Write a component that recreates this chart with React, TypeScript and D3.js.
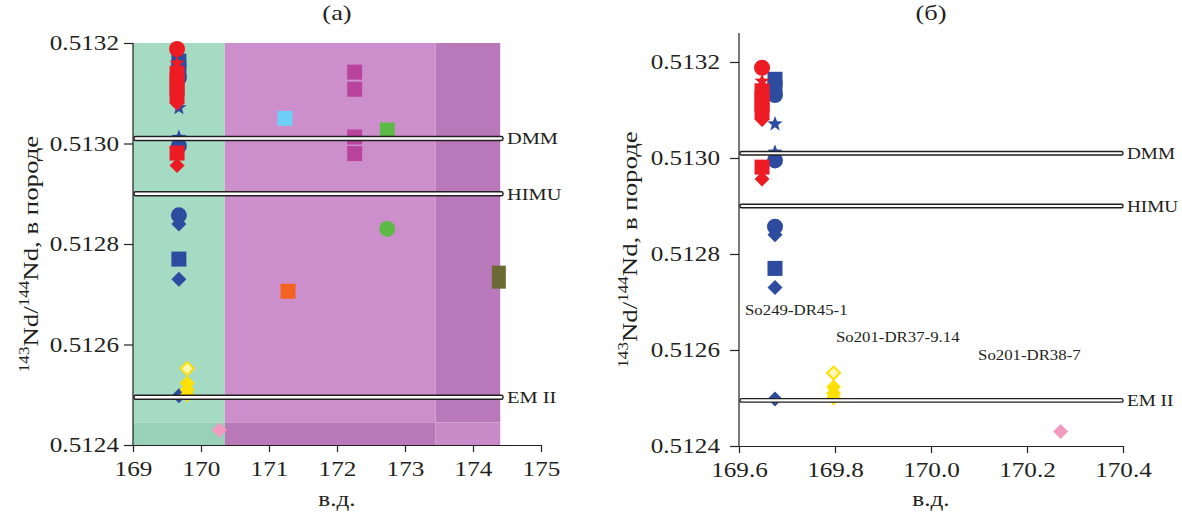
import { useRef, useEffect } from "react";
import * as d3 from "d3";

const W = 1182;
const H = 512;
const FONT = "'Liberation Serif', 'DejaVu Serif', serif";
const SX = 1.2; // text in the figure is drawn a bit wide

// longitude of each sample group (deg E)
const groupNames = ["blue", "red", "yellow", "pink", "cyan", "magenta", "green", "orange", "olive"];
const groupLon = [169.675, 169.648, 169.797, 170.27, 171.235, 172.26, 172.74, 171.28, 174.38];

// 143Nd/144Nd values per group and marker type of each point
const blueNd = [0.513164, 0.513148, 0.513131, 0.513071, 0.513012, 0.512995, 0.512857, 0.51284, 0.51277, 0.51273, 0.512498];
const blueShape = ["square", "square", "circle", "star", "star", "circle", "circle", "diamond", "square", "diamond", "diamond"];
const redNd = [0.513188, 0.51316, 0.51314, 0.513125, 0.51311, 0.513095, 0.51308, 0.512981, 0.512956];
const redShape = ["circle", "star", "square", "square", "square", "square", "diamond", "square", "diamond"];
const yellowNd = [0.512552, 0.512523, 0.51251, 0.5125];
const yellowShape = ["open", "diamond", "diamond", "diamond"];
const pinkNd = [0.51243];
const pinkShape = ["diamond"];
const cyanNd = [0.51305];
const cyanShape = ["square"];
const magentaNd = [0.513142, 0.513108, 0.513013, 0.51298];
const magentaShape = ["square", "square", "square", "square"];
const greenNd = [0.513027, 0.51283];
const greenShape = ["square", "circle"];
const orangeNd = [0.512706];
const orangeShape = ["square"];
const oliveNd = [0.512734];
const oliveShape = ["tall"];

const groupNd = [blueNd, redNd, yellowNd, pinkNd, cyanNd, magentaNd, greenNd, orangeNd, oliveNd];
const groupShape = [blueShape, redShape, yellowShape, pinkShape, cyanShape, magentaShape, greenShape, orangeShape, oliveShape];

// mantle reservoirs
const refNames = ["DMM", "HIMU", "EM II"];
const refNd = [0.51301, 0.5129, 0.512495];

// tectonic zones shaded in panel (a)
const zoneEdges = [169, 170.35, 173.45, 174.4];
const zoneBandTop = 0.512445;

// ticks
const yTicks = [0.5124, 0.5126, 0.5128, 0.513, 0.5132];
const xTicksA = [169, 170, 171, 172, 173, 174, 175];
const xTicksB = [169.6, 169.8, 170.0, 170.2, 170.4];

// sample annotations in panel (b)
const sampleLabels = ["So249-DR45-1", "So201-DR37-9.14", "So201-DR38-7"];
const sampleLabelLon = [169.6125, 169.802, 170.098];
const sampleLabelNd = [0.512673, 0.512617, 0.512579];

const colors: Record<string, string> = {
  blue: "#2d4b9f",
  red: "#ed1c24",
  yellow: "#ffe000",
  pink: "#f39ac1",
  cyan: "#6dcff6",
  magenta: "#b8449d",
  green: "#5dba46",
  orange: "#f4631f",
  olive: "#6c6934",
};
const zoneColors = ["#a6dbc3", "#cc8fcc", "#b978b9"];
const zoneBandColors = ["#98d1b7", "#b979b9", "#c88bc7"];

function starPath(R: number) {
  const pts: string[] = [];
  for (let i = 0; i < 10; i++) {
    const r = i % 2 === 0 ? R : R * 0.42;
    const a = -Math.PI / 2 + (i * Math.PI) / 5;
    pts.push(`${r * Math.cos(a)},${r * Math.sin(a)}`);
  }
  return "M" + pts.join("L") + "Z";
}

function marker(g: any, shape: string, cx: number, cy: number, color: string) {
  const m = g.append("g").attr("transform", `translate(${cx},${cy})`);
  if (shape === "circle") m.append("circle").attr("r", 8).attr("fill", color);
  else if (shape === "square") m.append("rect").attr("x", -7.5).attr("y", -7.5).attr("width", 15).attr("height", 15).attr("fill", color);
  else if (shape === "tall") m.append("rect").attr("x", -7).attr("y", -11.5).attr("width", 14).attr("height", 23).attr("fill", color);
  else if (shape === "diamond") m.append("path").attr("d", "M0,-7.5L7.5,0L0,7.5L-7.5,0Z").attr("fill", color);
  else if (shape === "open")
    m.append("path").attr("d", "M0,-6.5L6.5,0L0,6.5L-6.5,0Z").attr("fill", "#fff7b8").attr("stroke", color).attr("stroke-width", 2);
  else if (shape === "star") m.append("path").attr("d", starPath(8)).attr("fill", color);
}

function wideText(g: any, x: number, y: number, txt: string, size: number, anchor = "start") {
  return g
    .append("text")
    .attr("transform", `translate(${x},${y}) scale(${SX},1)`)
    .attr("font-family", FONT)
    .attr("font-size", size)
    .attr("text-anchor", anchor)
    .attr("fill", "#231f20")
    .text(txt);
}

function styleAxis(ax: any) {
  ax.attr("font-family", FONT).attr("font-size", 21);
  ax.selectAll("line, path").attr("stroke", "#231f20").attr("stroke-width", 1.2);
  ax.selectAll("text")
    .attr("fill", "#231f20")
    .each(function (this: any) {
      const t = d3.select(this);
      const x = +(t.attr("x") || 0);
      t.attr("x", x / SX).attr("transform", `scale(${SX},1)`);
    });
}

function yLabel(svg: any, x: number, y: number) {
  const t = svg
    .append("text")
    .attr("transform", `translate(${x},${y}) rotate(-90) scale(1.22,1)`)
    .attr("font-family", FONT)
    .attr("font-size", 22)
    .attr("text-anchor", "middle")
    .attr("fill", "#231f20");
  t.append("tspan").attr("font-size", 14).attr("dy", -9).text("143");
  t.append("tspan").attr("dy", 9).text("Nd/");
  t.append("tspan").attr("font-size", 14).attr("dy", -9).text("144");
  t.append("tspan").attr("dy", 9).text("Nd, в породе");
}

interface PanelOpts {
  x: d3.ScaleLinear<number, number>;
  y: d3.ScaleLinear<number, number>;
  xTicks: number[];
  xFmt: (v: number) => string;
  axisTop: number;
  zones: boolean;
  refEnd: number;
  refH: number;
  refSize: number;
  title: string;
  yLabelX: number;
  yPad: number;
  annotate: boolean;
}

function drawPanel(svg: any, o: PanelOpts) {
  const { x, y } = o;
  const [x0, x1] = x.range();
  const y0 = y(0.5124);

  const g = svg.append("g");

  if (o.zones) {
    for (let i = 0; i < zoneColors.length; i++) {
      const a = x(zoneEdges[i]);
      const b = x(zoneEdges[i + 1]);
      g.append("rect").attr("x", a).attr("y", y(0.5132)).attr("width", b - a).attr("height", y(zoneBandTop) - y(0.5132)).attr("fill", zoneColors[i]);
      g.append("rect").attr("x", a).attr("y", y(zoneBandTop)).attr("width", b - a).attr("height", y0 - y(zoneBandTop)).attr("fill", zoneBandColors[i]);
    }
  }

  // markers
  const [d0, d1] = x.domain();
  groupNames.forEach((name, gi) => {
    const lon = groupLon[gi];
    if (lon < d0 || lon > d1) return;
    groupNd[gi].forEach((v, k) => marker(g, groupShape[gi][k], x(lon), y(v), colors[name]));
  });

  // reservoir lines
  refNames.forEach((name, i) => {
    const yy = y(refNd[i]);
    g.append("rect")
      .attr("x", x0 + 1)
      .attr("y", yy - o.refH / 2)
      .attr("width", o.refEnd - x0 - 1)
      .attr("height", o.refH)
      .attr("rx", 1.5)
      .attr("fill", "white")
      .attr("stroke", "#231f20")
      .attr("stroke-width", 1.4);
    wideText(g, o.refEnd + 4, yy + 6, name, o.refSize);
  });

  if (o.annotate) {
    sampleLabels.forEach((s, i) => wideText(g, x(sampleLabelLon[i]), y(sampleLabelNd[i]), s, 14));
  }

  // axes
  const ay = g
    .append("g")
    .attr("transform", `translate(${x0},0)`)
    .call(d3.axisLeft(y).tickValues(yTicks).tickFormat(d3.format(".4f")).tickSize(9).tickSizeOuter(0).tickPadding(o.yPad));
  ay.select(".domain").remove();
  ay.append("line").attr("y1", o.axisTop).attr("y2", y0);
  styleAxis(ay);

  const ax = g
    .append("g")
    .attr("transform", `translate(0,${y0})`)
    .call(d3.axisBottom(x).tickValues(o.xTicks).tickFormat(o.xFmt as any).tickSize(7).tickSizeOuter(0).tickPadding(9));
  styleAxis(ax);

  const mid = (x0 + x1) / 2;
  wideText(g, mid, 20, o.title, 22, "middle");
  wideText(g, mid, 506, "в.д.", 21, "middle");
  yLabel(svg, o.yLabelX, (o.axisTop + y0) / 2 + 10);
}

export default function App() {
  const svgRef = useRef<SVGSVGElement>(null);

  useEffect(() => {
    if (!svgRef.current) return;
    const svg = d3.select(svgRef.current);
    svg.selectAll("*").remove();

    drawPanel(svg, {
      x: d3.scaleLinear([169, 175], [133, 541]),
      y: d3.scaleLinear([0.5124, 0.5132], [445, 43]),
      xTicks: xTicksA,
      xFmt: d3.format("d"),
      axisTop: 43,
      zones: true,
      refEnd: 503,
      refH: 4,
      refSize: 17,
      title: "(а)",
      yLabelX: 38,
      yPad: 5,
      annotate: false,
    });

    drawPanel(svg, {
      x: d3.scaleLinear([169.6, 170.4], [739, 1123]),
      y: d3.scaleLinear([0.5124, 0.5132], [446, 62]),
      xTicks: xTicksB,
      xFmt: d3.format(".1f"),
      axisTop: 33,
      zones: false,
      refEnd: 1123,
      refH: 3.5,
      refSize: 16,
      title: "(б)",
      yLabelX: 637,
      yPad: 10,
      annotate: true,
    });
  }, []);

  return (
    <svg
      ref={svgRef}
      width={W}
      height={H}
      style={{ position: "absolute", left: 0, top: 0, background: "white" }}
    />
  );
}
